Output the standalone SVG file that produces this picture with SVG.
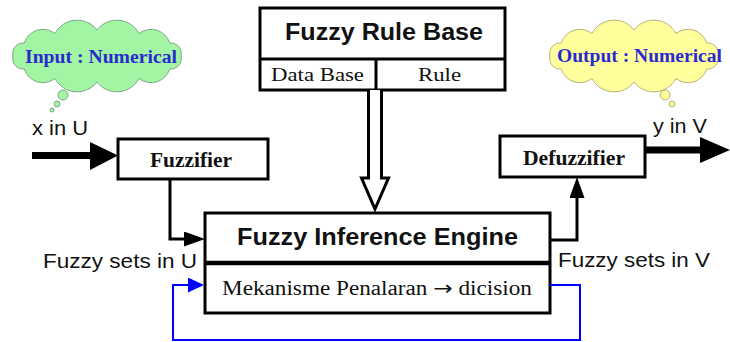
<svg xmlns="http://www.w3.org/2000/svg" xmlns:xlink="http://www.w3.org/1999/xlink" width="730" height="342" viewBox="0 0 730 342">
  <style>
    .box { fill: #ffffff; stroke: #000000; stroke-width: 3; }
    .wire { fill: none; stroke: #000000; stroke-width: 3; }
    .feedback { fill: none; stroke: #0000ff; stroke-width: 2; }
    .sans { font-family: "Liberation Sans", Arial, sans-serif; fill: #111111; }
    .serif { font-family: "Liberation Serif", "Times New Roman", serif; fill: #111111; }
    .title { font-size: 23px; font-weight: bold; }
    .label { font-size: 20px; }
    .cell { font-size: 19px; }
    .stage { font-size: 20px; font-weight: bold; }
    .thought { font-family: "Liberation Serif", "Times New Roman", serif; font-size: 18px; font-weight: bold; fill: #2a2ad0; }
    .cloud-green { fill: #a2f5a2; stroke: #7fa88a; stroke-width: 1; }
    .cloud-yellow { fill: #ffff9c; stroke: #b8b27a; stroke-width: 1; }
  </style>
  <defs>
    <!-- bumpy cloud outline, centred on the origin -->
    <path id="cloud" d="M84,0 A10.5,10.5 0 0 1 72.7,13 A19.5,19.5 0 0 1 42,22.5 A25,25 0 0 1 0,26 A25,25 0 0 1 -42,22.5 A19.5,19.5 0 0 1 -72.7,13 A10.5,10.5 0 0 1 -84,0 A10.5,10.5 0 0 1 -72.7,-13 A19.5,19.5 0 0 1 -42,-22.5 A25,25 0 0 1 0,-26 A25,25 0 0 1 42,-22.5 A19.5,19.5 0 0 1 72.7,-13 A10.5,10.5 0 0 1 84,0 Z"/>
    <marker id="head-black" markerUnits="userSpaceOnUse" markerWidth="22" markerHeight="16" refX="11" refY="7.5" orient="auto">
      <path d="M0,0 L21,7.5 L0,15 Z" fill="#000000"/>
    </marker>
    <marker id="head-blue" markerUnits="userSpaceOnUse" markerWidth="18" markerHeight="16" refX="8" refY="7.5" orient="auto">
      <path d="M0,0 L16,7.5 L0,15 Z" fill="#0000ff"/>
    </marker>
  </defs>

  <rect width="730" height="342" fill="#ffffff"/>

  <!-- thought clouds -->
  <g id="input-cloud">
    <use xlink:href="#cloud" href="#cloud" transform="translate(97,56)" class="cloud-green"/>
    <circle cx="63" cy="95" r="5" class="cloud-green"/>
    <circle cx="57" cy="104" r="3" class="cloud-green"/>
    <circle cx="52" cy="110" r="2" class="cloud-green"/>
    <text x="25" y="63" class="thought" textLength="152" lengthAdjust="spacingAndGlyphs">Input : Numerical</text>
  </g>
  <g id="output-cloud">
    <use xlink:href="#cloud" href="#cloud" transform="translate(634,56)" class="cloud-yellow"/>
    <circle cx="665" cy="95" r="5" class="cloud-yellow"/>
    <circle cx="672" cy="104" r="3" class="cloud-yellow"/>
    <text x="557" y="62" class="thought" textLength="165" lengthAdjust="spacingAndGlyphs">Output : Numerical</text>
  </g>

  <!-- rule base -->
  <g id="rule-base">
    <rect x="260" y="8" width="245" height="82" class="box"/>
    <line x1="260" y1="59" x2="505" y2="59" class="wire"/>
    <line x1="376" y1="59" x2="376" y2="90" class="wire"/>
    <text x="285" y="40" class="sans title" textLength="198" lengthAdjust="spacingAndGlyphs">Fuzzy Rule Base</text>
    <text x="271" y="81" class="serif cell" textLength="93" lengthAdjust="spacingAndGlyphs">Data Base</text>
    <text x="418" y="81" class="serif cell" textLength="43" lengthAdjust="spacingAndGlyphs">Rule</text>
  </g>

  <!-- fuzzifier -->
  <g id="fuzzifier">
    <rect x="118" y="139" width="150" height="40" class="box"/>
    <text x="150" y="167" class="serif stage" textLength="82" lengthAdjust="spacingAndGlyphs">Fuzzifier</text>
  </g>

  <!-- defuzzifier -->
  <g id="defuzzifier">
    <rect x="500" y="136" width="145" height="41" class="box"/>
    <text x="523" y="165" class="serif stage" textLength="102" lengthAdjust="spacingAndGlyphs">Defuzzifier</text>
  </g>

  <!-- inference engine -->
  <g id="inference-engine">
    <rect x="205" y="213" width="345" height="100" class="box" stroke-width="3.5"/>
    <line x1="205" y1="263" x2="550" y2="263" stroke="#000000" stroke-width="4.5"/>
    <text x="237" y="245" class="sans title" textLength="281" lengthAdjust="spacingAndGlyphs">Fuzzy Inference Engine</text>
    <text x="222" y="295" class="serif label" textLength="310" lengthAdjust="spacingAndGlyphs">Mekanisme Penalaran <tspan font-family="'DejaVu Sans', sans-serif">→</tspan> dicision</text>
  </g>

  <!-- connectors -->
  <g id="connectors">
    <!-- crisp input -->
    <rect x="32" y="152" width="60" height="7" fill="#000000"/>
    <polygon points="90,142 118,155.5 90,170" fill="#000000"/>
    <!-- crisp output -->
    <rect x="645" y="146.5" width="57" height="7" fill="#000000"/>
    <polygon points="700,137 730,150 700,163" fill="#000000"/>
    <!-- rule base into engine -->
    <path d="M368.5,90 V178 H361.5 L375,209 L388.5,178 H381.5 V90" fill="#ffffff" stroke="#000000" stroke-width="3" stroke-linejoin="miter"/>
    <!-- fuzzifier to engine -->
    <path d="M170,179 V239 H195" class="wire" marker-end="url(#head-black)"/>
    <!-- engine to defuzzifier -->
    <path d="M550,240 H577 V187" class="wire" marker-end="url(#head-black)"/>
    <!-- feedback loop -->
    <path d="M550,285 H580 V340 H173 V285 H196" class="feedback" marker-end="url(#head-blue)"/>
  </g>

  <!-- signal labels -->
  <g id="labels">
    <text x="32" y="135" class="sans label" textLength="56" lengthAdjust="spacingAndGlyphs">x in U</text>
    <text x="653" y="133" class="sans label" textLength="54" lengthAdjust="spacingAndGlyphs">y in V</text>
    <text x="43" y="268" class="sans label" textLength="154" lengthAdjust="spacingAndGlyphs">Fuzzy sets in U</text>
    <text x="558" y="267" class="sans label" textLength="152" lengthAdjust="spacingAndGlyphs">Fuzzy sets in V</text>
  </g>
</svg>
